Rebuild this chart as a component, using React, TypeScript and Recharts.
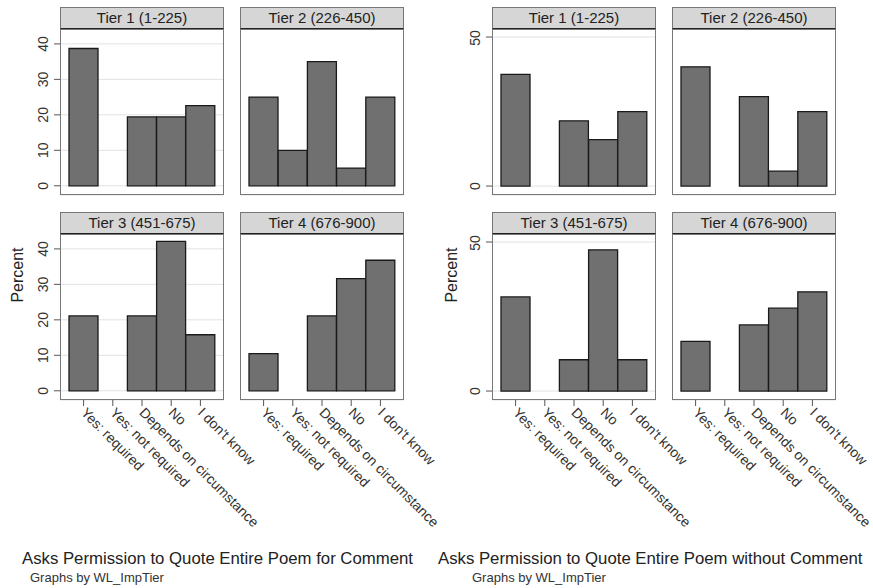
import { BarChart, Bar, XAxis, YAxis, CartesianGrid } from "recharts";

// answer categories and per-tier percentages
const categories = ["Yes: required", "Yes: not required", "Depends on circumstance", "No", "I don't know"];
const tierTitles = ["Tier 1 (1-225)", "Tier 2 (226-450)", "Tier 3 (451-675)", "Tier 4 (676-900)"];

const forCommentTier1 = [38.7, 0, 19.4, 19.4, 22.6];
const forCommentTier2 = [25, 10, 35, 5, 25];
const forCommentTier3 = [21.1, 0, 21.1, 42.1, 15.8];
const forCommentTier4 = [10.5, 0, 21.1, 31.6, 36.8];

const withoutCommentTier1 = [37.5, 0, 21.9, 15.6, 25];
const withoutCommentTier2 = [40, 0, 30, 5, 25];
const withoutCommentTier3 = [31.6, 0, 10.5, 47.4, 10.5];
const withoutCommentTier4 = [16.7, 0, 22.2, 27.8, 33.3];

const forCommentTicks = [0, 10, 20, 30, 40];
const withoutCommentTicks = [0, 50];

const FONT = "'Liberation Sans', Arial, Helvetica, sans-serif";
const FRAME_W = 164;
const HEADER_H = 22;
const PLOT_H = 166;
const AXIS_W = 60;
const LABEL_H = 150;

const XTick = ({ x, y, payload }: any) => (
  <text
    x={x}
    y={y + 2}
    dy="0.35em"
    transform={`rotate(45, ${x}, ${y + 2})`}
    textAnchor="start"
    fontSize={14}
    fill="#333"
    fontFamily={FONT}
  >
    {payload.value}
  </text>
);

const YTick = ({ x, y, payload }: any) => (
  <text
    x={x - 4}
    y={y}
    transform={`rotate(-90, ${x - 4}, ${y})`}
    textAnchor="middle"
    fontSize={14}
    fill="#333"
    fontFamily={FONT}
  >
    {payload.value}
  </text>
);

interface PanelProps {
  left: number;
  top: number;
  title: string;
  values: number[];
  ticks: number[];
  domain: [number, number];
  showY: boolean;
  showX: boolean;
  rightPad: number;
}

function Panel({ left, top, title, values, ticks, domain, showY, showX, rightPad }: PanelProps) {
  const data = categories.map((name, i) => ({ name, value: values[i] }));
  const plotTop = top + HEADER_H;
  return (
    <>
      <div style={{ position: "absolute", left: left - AXIS_W, top: plotTop }}>
        <BarChart
          width={AXIS_W + FRAME_W + rightPad}
          height={PLOT_H + LABEL_H}
          data={data}
          margin={{ top: 0, right: rightPad, bottom: 0, left: 0 }}
          barCategoryGap={0}
        >
          <CartesianGrid horizontal vertical={false} stroke="#e2e2e2" />
          <XAxis
            dataKey="name"
            height={LABEL_H}
            padding={{ left: 9, right: 9 }}
            axisLine={false}
            tickLine={showX ? { stroke: "#555" } : false}
            tickSize={6}
            interval={0}
            tick={showX ? (p: any) => <XTick {...p} /> : false}
          />
          <YAxis
            type="number"
            width={AXIS_W}
            domain={domain}
            ticks={ticks}
            allowDataOverflow
            axisLine={false}
            tickLine={showY ? { stroke: "#555" } : false}
            tickSize={6}
            tick={showY ? (p: any) => <YTick {...p} /> : false}
          />
          <Bar dataKey="value" fill="#707070" stroke="#1a1a1a" strokeWidth={1.3} isAnimationActive={false} />
        </BarChart>
      </div>
      <div
        style={{
          position: "absolute",
          left,
          top: plotTop,
          width: FRAME_W,
          height: PLOT_H,
          border: "1px solid #777",
          boxSizing: "border-box",
          pointerEvents: "none",
        }}
      />
      <div
        style={{
          position: "absolute",
          left,
          top,
          width: FRAME_W,
          height: HEADER_H,
          background: "#d6d6d6",
          border: "1px solid #777",
          borderBottom: "1.5px solid #222",
          boxSizing: "border-box",
          fontSize: 15,
          color: "#222",
          textAlign: "center",
          lineHeight: `${HEADER_H - 2}px`,
          whiteSpace: "nowrap",
        }}
      >
        {title}
      </div>
    </>
  );
}

const Percent = ({ cx, cy }: { cx: number; cy: number }) => (
  <div
    style={{
      position: "absolute",
      left: cx,
      top: cy,
      transform: "translate(-50%, -50%) rotate(-90deg)",
      fontSize: 16,
      color: "#222",
      whiteSpace: "nowrap",
      lineHeight: 1,
    }}
  >
    Percent
  </div>
);

export default function App() {
  const leftDomain: [number, number] = [-2.6, 44.2];
  const rightDomain: [number, number] = [-3, 52.7];
  return (
    <div
      style={{
        position: "absolute",
        left: 0,
        top: 0,
        width: 873,
        height: 588,
        background: "#fff",
        fontFamily: FONT,
        overflow: "hidden",
      }}
    >
      {/* for comment */}
      <Panel left={60} top={7} title={tierTitles[0]} values={forCommentTier1} ticks={forCommentTicks} domain={leftDomain} showY showX={false} rightPad={10} />
      <Panel left={240} top={7} title={tierTitles[1]} values={forCommentTier2} ticks={forCommentTicks} domain={leftDomain} showY={false} showX={false} rightPad={10} />
      <Panel left={60} top={212} title={tierTitles[2]} values={forCommentTier3} ticks={forCommentTicks} domain={leftDomain} showY showX rightPad={80} />
      <Panel left={240} top={212} title={tierTitles[3]} values={forCommentTier4} ticks={forCommentTicks} domain={leftDomain} showY={false} showX rightPad={60} />
      <Percent cx={18} cy={275} />

      {/* without comment */}
      <Panel left={492} top={7} title={tierTitles[0]} values={withoutCommentTier1} ticks={withoutCommentTicks} domain={rightDomain} showY showX={false} rightPad={10} />
      <Panel left={672} top={7} title={tierTitles[1]} values={withoutCommentTier2} ticks={withoutCommentTicks} domain={rightDomain} showY={false} showX={false} rightPad={10} />
      <Panel left={492} top={212} title={tierTitles[2]} values={withoutCommentTier3} ticks={withoutCommentTicks} domain={rightDomain} showY showX rightPad={80} />
      <Panel left={672} top={212} title={tierTitles[3]} values={withoutCommentTier4} ticks={withoutCommentTicks} domain={rightDomain} showY={false} showX rightPad={37} />
      <Percent cx={452} cy={275} />

      <div style={{ position: "absolute", left: 22, top: 551, fontSize: 16.75, color: "#222", whiteSpace: "nowrap", lineHeight: 1 }}>
        Asks Permission to Quote Entire Poem for Comment
      </div>
      <div style={{ position: "absolute", left: 30, top: 571, fontSize: 13, color: "#333", whiteSpace: "nowrap", lineHeight: 1 }}>
        Graphs by WL_ImpTier
      </div>
      <div style={{ position: "absolute", left: 438, top: 551, fontSize: 16.75, color: "#222", whiteSpace: "nowrap", lineHeight: 1 }}>
        Asks Permission to Quote Entire Poem without Comment
      </div>
      <div style={{ position: "absolute", left: 472, top: 571, fontSize: 13, color: "#333", whiteSpace: "nowrap", lineHeight: 1 }}>
        Graphs by WL_ImpTier
      </div>
    </div>
  );
}
